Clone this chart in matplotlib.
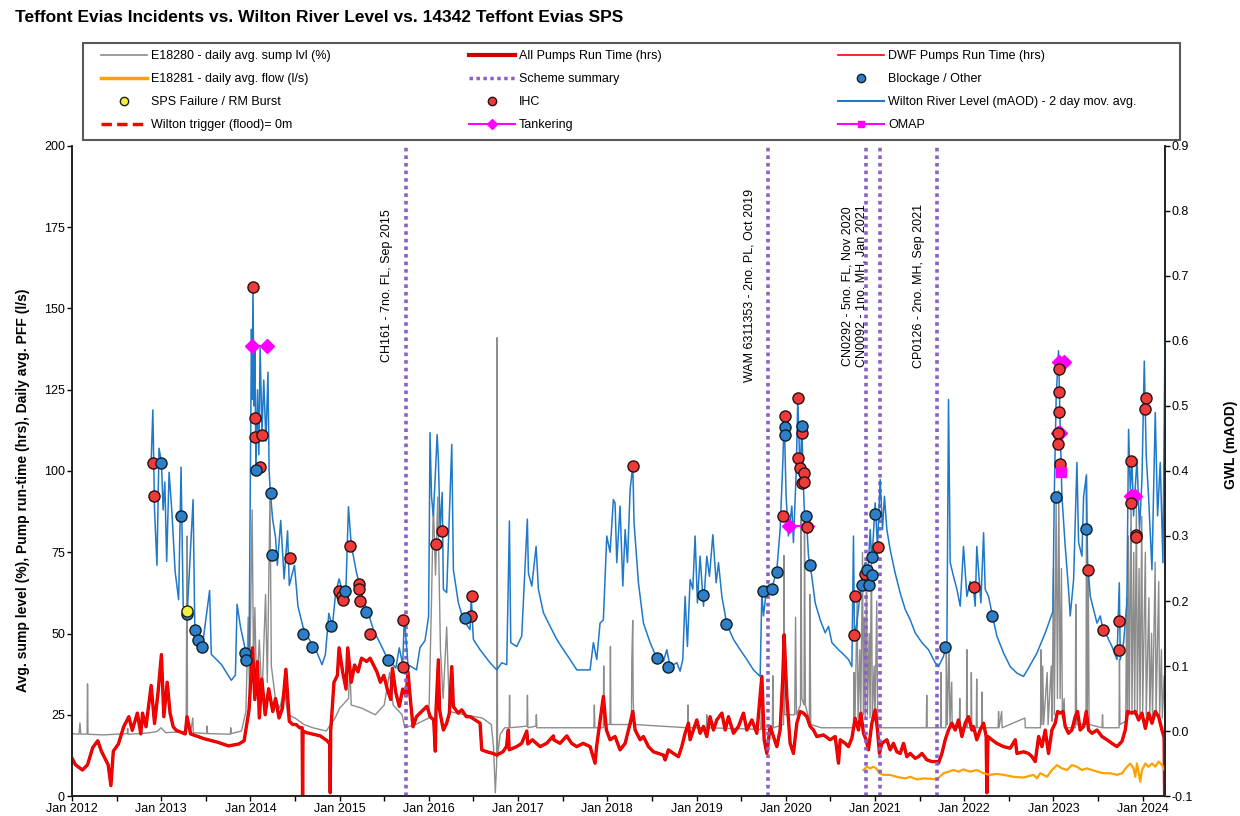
import numpy as np
import matplotlib.pyplot as plt
from matplotlib.lines import Line2D
from matplotlib.patches import Rectangle
from matplotlib.ticker import FormatStrFormatter

plt.rcParams['font.family'] = ['Liberation Sans', 'DejaVu Sans']
plt.rcParams['axes.unicode_minus'] = False

# ---- data (decimal years) ----
# E18280 daily avg. sump level (%)
sump_year = [2012.0, 2012.08, 2012.09, 2012.1, 2012.17, 2012.175, 2012.18, 2012.35, 2012.62, 2012.625,
             2012.63, 2012.85, 2012.95, 2013.0, 2013.05, 2013.28, 2013.29, 2013.295, 2013.33, 2013.355,
             2013.36, 2013.51, 2013.515, 2013.52, 2013.775, 2013.78, 2013.785, 2013.9, 2013.95, 2013.975,
             2013.99, 2014.02, 2014.035, 2014.05, 2014.07, 2014.1, 2014.13, 2014.17, 2014.19, 2014.22,
             2014.235, 2014.28, 2014.33, 2014.38, 2014.42, 2014.5, 2014.6, 2014.7, 2014.85, 2014.95,
             2015.0, 2015.1, 2015.115, 2015.13, 2015.25, 2015.4, 2015.5, 2015.56, 2015.6, 2015.7,
             2015.73, 2015.85, 2016.0, 2016.03, 2016.05, 2016.075, 2016.1, 2016.13, 2016.16, 2016.2,
             2016.23, 2016.4, 2016.6, 2016.7, 2016.725, 2016.745, 2016.76, 2016.765, 2016.77, 2016.8,
             2016.85, 2016.9, 2016.905, 2016.91, 2017.1, 2017.105, 2017.11, 2017.2, 2017.205, 2017.21,
             2017.85, 2017.855, 2017.86, 2017.955, 2017.96, 2017.965, 2018.03, 2018.035, 2018.04, 2018.27,
             2018.275, 2018.285, 2018.29, 2018.3, 2018.9, 2018.905, 2018.91, 2019.11, 2019.115, 2019.12,
             2019.72, 2019.73, 2019.735, 2019.85, 2019.855, 2019.86, 2019.975, 2019.98, 2019.99, 2020.1,
             2020.11, 2020.12, 2020.165, 2020.17, 2020.18, 2020.205, 2020.21, 2020.22, 2020.265, 2020.27,
             2020.28, 2020.4, 2020.76, 2020.765, 2020.775, 2020.8, 2020.81, 2020.83, 2020.84, 2020.86,
             2020.87, 2020.88, 2020.89, 2020.905, 2020.915, 2020.935, 2020.945, 2020.96, 2020.97, 2020.99,
             2021.0, 2021.02, 2021.03, 2021.05, 2021.575, 2021.58, 2021.585, 2021.735, 2021.74, 2021.745,
             2021.795, 2021.8, 2021.81, 2021.83, 2021.84, 2021.86, 2021.865, 2021.945, 2021.95, 2021.955,
             2022.025, 2022.03, 2022.035, 2022.075, 2022.08, 2022.085, 2022.135, 2022.14, 2022.145, 2022.195,
             2022.2, 2022.205, 2022.38, 2022.385, 2022.39, 2022.42, 2022.425, 2022.68, 2022.685, 2022.855,
             2022.86, 2022.87, 2022.88, 2022.89, 2022.93, 2022.94, 2022.975, 2022.985, 2023.0, 2023.01,
             2023.03, 2023.045, 2023.06, 2023.075, 2023.09, 2023.1, 2023.12, 2023.13, 2023.245, 2023.25,
             2023.26, 2023.365, 2023.37, 2023.38, 2023.39, 2023.4, 2023.545, 2023.55, 2023.555, 2023.735,
             2023.74, 2023.745, 2023.81, 2023.82, 2023.83, 2023.84, 2023.85, 2023.87, 2023.88, 2023.9,
             2023.91, 2023.93, 2023.94, 2023.96, 2023.97, 2023.99, 2024.0, 2024.03, 2024.04, 2024.07,
             2024.08, 2024.1, 2024.11, 2024.14, 2024.15, 2024.18, 2024.19, 2024.21, 2024.22, 2024.24, 2024.25]
sump_pct = [19.2, 19.0, 22.5, 19.0, 19.1, 34.5, 19.0, 18.8, 19.2, 20.8,
            19.0, 19.4, 19.8, 21.0, 19.5, 19.8, 80.0, 22.0, 19.8, 24.0,
            19.5, 19.2, 21.5, 19.2, 19.0, 21.0, 19.2, 20.0, 26.0, 55.0,
            32.0, 88.0, 40.0, 58.0, 32.0, 48.0, 30.0, 62.0, 35.0, 93.0,
            40.0, 30.0, 27.0, 33.0, 25.0, 24.0, 22.0, 21.0, 20.0, 24.0,
            27.0, 30.0, 40.0, 28.0, 27.0, 25.0, 28.0, 38.0, 28.0, 25.0,
            21.0, 22.0, 24.0, 60.0, 90.0, 68.0, 92.0, 45.0, 30.0, 52.0,
            26.0, 25.0, 24.0, 22.0, 15.0, 1.0, 10.0, 141.0, 12.0, 19.0,
            21.0, 21.0, 31.0, 21.0, 21.5, 31.0, 21.0, 21.5, 25.0, 21.0,
            21.0, 28.0, 21.0, 21.0, 40.0, 22.0, 22.0, 46.0, 22.0, 22.0,
            42.0, 54.0, 30.0, 22.0, 21.0, 28.0, 21.0, 21.0, 25.0, 21.0,
            20.5, 30.6, 20.5, 20.5, 37.0, 21.0, 22.0, 74.0, 25.0, 25.0,
            55.0, 25.0, 28.0, 85.0, 30.0, 28.0, 82.0, 28.0, 23.0, 62.0,
            22.0, 21.0, 21.0, 38.0, 22.0, 60.0, 24.0, 45.0, 23.0, 75.0,
            25.0, 55.0, 24.0, 72.0, 25.0, 50.0, 24.0, 77.0, 24.0, 40.0,
            23.0, 60.0, 22.0, 21.0, 21.0, 31.0, 21.0, 21.0, 38.0, 21.0,
            21.0, 45.0, 22.0, 47.0, 22.0, 35.0, 21.0, 21.0, 30.0, 21.0,
            21.0, 45.0, 21.0, 21.0, 38.0, 21.0, 21.0, 36.0, 21.0, 21.0,
            32.0, 21.0, 21.0, 26.0, 21.0, 26.0, 21.0, 24.0, 21.0, 21.0,
            45.0, 22.0, 40.0, 22.0, 38.0, 22.0, 40.0, 23.0, 70.0, 25.0,
            91.0, 30.0, 94.0, 30.0, 70.0, 24.0, 30.0, 21.0, 21.0, 59.0,
            22.0, 22.0, 99.0, 25.0, 70.0, 22.0, 21.0, 25.0, 21.0, 21.0,
            42.0, 22.0, 23.0, 61.0, 25.0, 80.0, 25.0, 92.0, 26.0, 75.0,
            25.0, 89.0, 26.0, 70.0, 25.0, 86.0, 26.0, 75.0, 25.0, 61.0,
            25.0, 50.0, 24.0, 72.0, 25.0, 66.0, 24.0, 45.0, 24.0, 37.0, 22.0]

# All pumps run time (hrs)
run_year = [2012.0, 2012.04, 2012.118, 2012.175, 2012.233, 2012.29, 2012.33, 2012.368, 2012.406, 2012.437,
            2012.464, 2012.521, 2012.58, 2012.638, 2012.676, 2012.733, 2012.772, 2012.791, 2012.83, 2012.888,
            2012.926, 2012.965, 2013.003, 2013.03, 2013.068, 2013.1, 2013.135, 2013.17, 2013.27, 2013.29,
            2013.33, 2013.486, 2013.64, 2013.755, 2013.87, 2013.93, 2013.985, 2014.025, 2014.05, 2014.08,
            2014.1, 2014.128, 2014.166, 2014.205, 2014.251, 2014.282, 2014.321, 2014.359, 2014.398, 2014.436,
            2014.474, 2014.513, 2014.552, 2014.58, 2014.585, 2014.59, 2014.629, 2014.706, 2014.783, 2014.86,
            2014.89, 2014.895, 2014.9, 2014.937, 2014.975, 2014.994, 2015.034, 2015.072, 2015.091, 2015.13,
            2015.168, 2015.206, 2015.246, 2015.303, 2015.342, 2015.38, 2015.418, 2015.457, 2015.496, 2015.534,
            2015.573, 2015.592, 2015.63, 2015.669, 2015.707, 2015.746, 2015.766, 2015.793, 2015.823, 2015.861,
            2015.9, 2015.938, 2015.978, 2016.016, 2016.054, 2016.073, 2016.08, 2016.107, 2016.12, 2016.163,
            2016.2, 2016.23, 2016.257, 2016.275, 2016.33, 2016.369, 2016.42, 2016.462, 2016.52, 2016.574,
            2016.593, 2016.65, 2016.72, 2016.761, 2016.83, 2016.87, 2016.891, 2016.9, 2016.985, 2017.04,
            2017.098, 2017.11, 2017.16, 2017.247, 2017.32, 2017.396, 2017.4, 2017.47, 2017.546, 2017.6,
            2017.658, 2017.73, 2017.807, 2017.863, 2017.88, 2017.956, 2017.99, 2018.031, 2018.087, 2018.143,
            2018.2, 2018.256, 2018.286, 2018.312, 2018.368, 2018.405, 2018.461, 2018.517, 2018.573, 2018.629,
            2018.648, 2018.685, 2018.741, 2018.797, 2018.835, 2018.872, 2018.909, 2018.928, 2018.965, 2019.003,
            2019.04, 2019.078, 2019.115, 2019.152, 2019.19, 2019.227, 2019.284, 2019.321, 2019.358, 2019.414,
            2019.47, 2019.526, 2019.564, 2019.62, 2019.676, 2019.732, 2019.758, 2019.788, 2019.825, 2019.862,
            2019.9, 2019.937, 2019.967, 2019.982, 2020.012, 2020.049, 2020.086, 2020.124, 2020.161, 2020.199,
            2020.236, 2020.274, 2020.311, 2020.348, 2020.423, 2020.498, 2020.554, 2020.591, 2020.61, 2020.666,
            2020.703, 2020.741, 2020.778, 2020.815, 2020.842, 2020.871, 2020.9, 2020.927, 2020.965, 2021.002,
            2021.028, 2021.05, 2021.077, 2021.133, 2021.17, 2021.207, 2021.245, 2021.283, 2021.32, 2021.357,
            2021.395, 2021.451, 2021.488, 2021.526, 2021.582, 2021.638, 2021.694, 2021.712, 2021.75, 2021.787,
            2021.824, 2021.862, 2021.899, 2021.936, 2021.974, 2022.011, 2022.048, 2022.086, 2022.104, 2022.141,
            2022.179, 2022.217, 2022.246, 2022.254, 2022.266, 2022.31, 2022.366, 2022.441, 2022.516, 2022.572,
            2022.591, 2022.665, 2022.721, 2022.759, 2022.796, 2022.834, 2022.871, 2022.908, 2022.945, 2022.983,
            2023.02, 2023.046, 2023.076, 2023.106, 2023.132, 2023.169, 2023.207, 2023.244, 2023.27, 2023.3,
            2023.338, 2023.368, 2023.394, 2023.432, 2023.488, 2023.544, 2023.6, 2023.656, 2023.712, 2023.768,
            2023.805, 2023.83, 2023.88, 2023.917, 2023.955, 2023.992, 2024.03, 2024.066, 2024.104, 2024.141,
            2024.179, 2024.216, 2024.24, 2024.246]
run_hrs = [11.7, 9.6, 8.0, 9.6, 14.9, 17.0, 13.8, 11.7, 9.6, 3.2,
           13.8, 16.0, 21.3, 24.4, 20.2, 25.5, 19.1, 25.5, 21.3, 34.0,
           22.3, 31.8, 43.5, 24.4, 35.0, 25.5, 21.3, 20.2, 19.1, 24.4,
           19.1, 17.6, 16.5, 15.4, 16.0, 17.0, 26.5, 45.6, 29.7, 41.3,
           24.0, 36.0, 25.0, 33.0, 26.0, 30.0, 24.0, 27.0, 39.0, 23.0,
           22.0, 22.0, 21.0, 21.0, 0.0, 20.0, 19.5, 19.0, 18.5, 17.0,
           16.0, 1.0, 20.0, 35.0, 37.1, 45.6, 38.2, 32.9, 45.6, 35.0,
           40.3, 38.2, 42.4, 41.4, 42.4, 40.3, 38.2, 35.0, 37.1, 32.9,
           29.7, 39.3, 31.8, 27.6, 32.9, 30.8, 38.2, 29.7, 21.3, 24.4,
           25.5, 26.5, 27.6, 24.4, 23.4, 13.8, 26.0, 41.9, 26.5, 20.3,
           22.4, 25.5, 39.8, 27.5, 25.5, 26.5, 24.4, 24.4, 23.4, 22.4,
           14.2, 13.6, 13.1, 12.6, 13.6, 15.2, 20.3, 14.2, 15.2, 16.2,
           20.0, 16.0, 17.3, 15.2, 16.2, 18.5, 17.3, 16.2, 18.5, 16.2,
           15.2, 16.2, 15.2, 10.1, 15.2, 30.6, 20.3, 17.3, 18.3, 14.2,
           16.2, 22.4, 26.0, 20.3, 17.3, 18.3, 15.2, 13.6, 13.1, 12.6,
           11.1, 14.2, 13.1, 12.1, 15.2, 19.3, 22.4, 17.3, 20.3, 23.4,
           19.3, 21.4, 18.3, 24.4, 20.3, 23.4, 25.5, 20.3, 24.4, 19.3,
           21.4, 25.5, 20.3, 23.4, 19.3, 36.8, 17.3, 13.1, 21.4, 18.3,
           15.2, 20.3, 36.8, 49.6, 30.6, 16.2, 13.1, 22.4, 26.0, 25.5,
           24.4, 21.4, 20.3, 18.3, 18.8, 17.3, 18.3, 10.1, 17.3, 16.2,
           15.2, 17.8, 23.9, 20.3, 25.5, 19.3, 17.3, 14.2, 22.4, 26.5,
           20.3, 13.1, 16.2, 17.3, 14.2, 16.2, 13.6, 13.1, 16.2, 12.1,
           13.1, 11.6, 12.1, 13.1, 11.1, 10.6, 10.6, 10.1, 13.1, 17.3,
           20.3, 22.4, 20.3, 23.4, 18.3, 22.4, 24.4, 20.3, 21.4, 17.3,
           20.3, 22.4, 18.3, 1.0, 18.3, 17.3, 16.2, 15.2, 14.7, 17.3,
           13.1, 13.6, 13.1, 12.1, 10.6, 18.3, 15.2, 20.3, 13.1, 20.3,
           22.4, 26.0, 25.5, 26.0, 21.4, 19.3, 20.3, 24.4, 26.0, 20.3,
           21.4, 26.0, 20.3, 19.3, 20.3, 18.3, 17.3, 16.2, 15.2, 16.8,
           20.3, 26.0, 25.5, 26.0, 23.4, 25.5, 20.8, 25.5, 22.4, 26.0,
           24.4, 20.3, 18.0, 0.0]

# E18281 daily avg. flow (l/s)
flow_year = [2020.871, 2020.909, 2020.946, 2020.983, 2021.013, 2021.05, 2021.095, 2021.17, 2021.245, 2021.339,
             2021.395, 2021.47, 2021.544, 2021.619, 2021.694, 2021.768, 2021.824, 2021.88, 2021.936, 2021.992,
             2022.03, 2022.067, 2022.141, 2022.217, 2022.291, 2022.366, 2022.441, 2022.553, 2022.665, 2022.777,
             2022.815, 2022.852, 2022.89, 2022.927, 2022.983, 2023.039, 2023.095, 2023.151, 2023.207, 2023.263,
             2023.319, 2023.375, 2023.432, 2023.488, 2023.562, 2023.637, 2023.712, 2023.768, 2023.824, 2023.861,
             2023.898, 2023.917, 2023.936, 2023.973, 2023.992, 2024.03, 2024.066, 2024.104, 2024.141, 2024.179,
             2024.216, 2024.246]
flow_ls = [8.0, 9.0, 8.5, 9.0, 8.5, 7.0, 6.5, 6.5, 5.9, 5.4,
           5.9, 5.1, 5.4, 5.3, 5.1, 7.0, 7.5, 8.0, 7.5, 8.2,
           7.8, 7.5, 8.0, 7.0, 6.5, 6.8, 6.5, 5.9, 5.7, 6.5,
           5.4, 7.0, 6.5, 5.9, 8.0, 9.5, 8.5, 8.0, 9.5, 9.0,
           8.0, 8.5, 8.0, 7.5, 7.0, 7.0, 6.5, 7.0, 9.0, 10.0,
           8.5, 5.9, 10.0, 4.4, 8.0, 10.0, 9.0, 10.0, 9.0, 10.6,
           9.5, 8.0]

# Wilton River Level (mAOD) - 2 day mov. avg.
river_year = [2012.888, 2012.907, 2012.926, 2012.953, 2012.976, 2013.003, 2013.022, 2013.041, 2013.062, 2013.089,
              2013.119, 2013.157, 2013.196, 2013.223, 2013.247, 2013.293, 2013.358, 2013.377, 2013.465, 2013.543,
              2013.562, 2013.677, 2013.786, 2013.832, 2013.851, 2013.889, 2013.947, 2013.985, 2014.012, 2014.02,
              2014.029, 2014.04, 2014.05, 2014.062, 2014.08, 2014.095, 2014.109, 2014.13, 2014.15, 2014.174,
              2014.197, 2014.21, 2014.224, 2014.25, 2014.282, 2014.302, 2014.34, 2014.378, 2014.417, 2014.436,
              2014.494, 2014.533, 2014.59, 2014.667, 2014.725, 2014.803, 2014.841, 2014.879, 2014.918, 2014.956,
              2014.994, 2015.034, 2015.072, 2015.099, 2015.13, 2015.187, 2015.265, 2015.322, 2015.38, 2015.457,
              2015.534, 2015.63, 2015.669, 2015.707, 2015.726, 2015.766, 2015.862, 2015.9, 2015.957, 2015.997,
              2016.005, 2016.013, 2016.03, 2016.05, 2016.075, 2016.093, 2016.107, 2016.126, 2016.15, 2016.163,
              2016.2, 2016.257, 2016.275, 2016.331, 2016.387, 2016.462, 2016.475, 2016.499, 2016.574, 2016.63,
              2016.686, 2016.761, 2016.817, 2016.873, 2016.903, 2016.918, 2016.985, 2017.041, 2017.104, 2017.116,
              2017.154, 2017.202, 2017.228, 2017.284, 2017.359, 2017.434, 2017.508, 2017.583, 2017.658, 2017.732,
              2017.807, 2017.844, 2017.882, 2017.919, 2017.956, 2017.994, 2018.031, 2018.068, 2018.087, 2018.106,
              2018.143, 2018.174, 2018.2, 2018.226, 2018.256, 2018.286, 2018.3, 2018.349, 2018.405, 2018.48,
              2018.555, 2018.629, 2018.667, 2018.704, 2018.779, 2018.816, 2018.846, 2018.872, 2018.898, 2018.928,
              2018.958, 2018.984, 2019.01, 2019.04, 2019.078, 2019.115, 2019.145, 2019.183, 2019.22, 2019.246,
              2019.284, 2019.34, 2019.414, 2019.489, 2019.564, 2019.638, 2019.713, 2019.732, 2019.75, 2019.788,
              2019.844, 2019.9, 2019.937, 2019.967, 2019.982, 2020.004, 2020.03, 2020.068, 2020.086, 2020.117,
              2020.135, 2020.161, 2020.18, 2020.199, 2020.217, 2020.236, 2020.255, 2020.292, 2020.33, 2020.386,
              2020.442, 2020.479, 2020.517, 2020.591, 2020.647, 2020.703, 2020.741, 2020.759, 2020.77, 2020.797,
              2020.834, 2020.864, 2020.89, 2020.916, 2020.946, 2020.965, 2021.002, 2021.028, 2021.058, 2021.084,
              2021.106, 2021.133, 2021.17, 2021.226, 2021.283, 2021.339, 2021.395, 2021.451, 2021.526, 2021.6,
              2021.675, 2021.712, 2021.768, 2021.806, 2021.824, 2021.843, 2021.88, 2021.918, 2021.955, 2021.992,
              2022.03, 2022.067, 2022.104, 2022.123, 2022.141, 2022.187, 2022.217, 2022.235, 2022.273, 2022.317,
              2022.366, 2022.441, 2022.516, 2022.591, 2022.665, 2022.721, 2022.815, 2022.908, 2022.994, 2023.009,
              2023.031, 2023.057, 2023.076, 2023.095, 2023.132, 2023.169, 2023.188, 2023.226, 2023.263, 2023.282,
              2023.319, 2023.338, 2023.368, 2023.383, 2023.413, 2023.45, 2023.488, 2023.525, 2023.562, 2023.6,
              2023.656, 2023.712, 2023.738, 2023.749, 2023.786, 2023.823, 2023.842, 2023.861, 2023.88, 2023.898,
              2023.936, 2023.965, 2023.992, 2024.018, 2024.04, 2024.066, 2024.104, 2024.141, 2024.167, 2024.197,
              2024.227, 2024.25]
river_maod = [0.414, 0.494, 0.340, 0.255, 0.435, 0.414, 0.340, 0.383, 0.261, 0.398,
              0.340, 0.245, 0.202, 0.406, 0.192, 0.184, 0.356, 0.160, 0.134, 0.216,
              0.118, 0.102, 0.078, 0.086, 0.195, 0.160, 0.123, 0.115, 0.618, 0.510,
              0.685, 0.500, 0.590, 0.400, 0.525, 0.425, 0.589, 0.460, 0.540, 0.446,
              0.552, 0.400, 0.367, 0.325, 0.298, 0.255, 0.324, 0.234, 0.308, 0.224,
              0.255, 0.192, 0.160, 0.139, 0.128, 0.102, 0.118, 0.181, 0.160, 0.213,
              0.234, 0.213, 0.224, 0.345, 0.287, 0.245, 0.202, 0.181, 0.155, 0.134,
              0.112, 0.097, 0.128, 0.102, 0.176, 0.102, 0.094, 0.128, 0.139, 0.176,
              0.300, 0.459, 0.361, 0.331, 0.400, 0.456, 0.418, 0.310, 0.367, 0.218,
              0.213, 0.441, 0.248, 0.197, 0.171, 0.156, 0.207, 0.141, 0.125, 0.115,
              0.105, 0.094, 0.105, 0.102, 0.323, 0.136, 0.130, 0.146, 0.326, 0.243,
              0.223, 0.284, 0.218, 0.182, 0.161, 0.141, 0.125, 0.110, 0.094, 0.094,
              0.094, 0.136, 0.110, 0.166, 0.171, 0.300, 0.275, 0.356, 0.351, 0.259,
              0.346, 0.223, 0.310, 0.259, 0.372, 0.408, 0.320, 0.228, 0.166, 0.136,
              0.112, 0.107, 0.125, 0.099, 0.105, 0.092, 0.110, 0.207, 0.130, 0.233,
              0.218, 0.300, 0.197, 0.269, 0.192, 0.269, 0.238, 0.302, 0.228, 0.259,
              0.207, 0.164, 0.141, 0.125, 0.110, 0.094, 0.084, 0.212, 0.177, 0.223,
              0.219, 0.248, 0.310, 0.413, 0.485, 0.361, 0.300, 0.346, 0.290, 0.397,
              0.512, 0.392, 0.469, 0.372, 0.310, 0.315, 0.269, 0.238, 0.197, 0.171,
              0.151, 0.161, 0.136, 0.125, 0.118, 0.110, 0.099, 0.300, 0.147, 0.166,
              0.212, 0.248, 0.259, 0.228, 0.310, 0.259, 0.351, 0.284, 0.387, 0.310,
              0.361, 0.310, 0.279, 0.243, 0.212, 0.187, 0.171, 0.151, 0.136, 0.125,
              0.105, 0.099, 0.115, 0.136, 0.510, 0.259, 0.238, 0.218, 0.192, 0.284,
              0.207, 0.230, 0.218, 0.192, 0.284, 0.197, 0.305, 0.218, 0.207, 0.177,
              0.146, 0.120, 0.099, 0.089, 0.084, 0.097, 0.120, 0.151, 0.184, 0.361,
              0.515, 0.585, 0.464, 0.361, 0.284, 0.218, 0.177, 0.233, 0.413, 0.290,
              0.269, 0.361, 0.392, 0.259, 0.207, 0.187, 0.166, 0.177, 0.151, 0.146,
              0.130, 0.110, 0.228, 0.110, 0.136, 0.197, 0.464, 0.372, 0.413, 0.331,
              0.418, 0.310, 0.387, 0.569, 0.423, 0.361, 0.248, 0.490, 0.331, 0.413,
              0.259, 0.603]

# incidents, plotted at river level (mAOD)
ihc_year = [2012.907, 2012.915, 2014.029, 2014.054, 2014.054, 2014.13, 2014.103, 2014.446, 2014.99, 2015.028,
            2015.036, 2015.113, 2015.213, 2015.213, 2015.229, 2015.344, 2015.71, 2015.71, 2016.076, 2016.152,
            2016.481, 2016.47, 2018.286, 2019.967, 2019.986, 2020.142, 2020.187, 2020.142, 2020.161, 2020.199,
            2020.18, 2020.206, 2020.236, 2020.778, 2020.77, 2020.89, 2021.032, 2022.115, 2023.057, 2023.057,
            2023.057, 2023.046, 2023.046, 2023.076, 2023.387, 2023.55, 2023.738, 2023.73, 2023.869, 2023.872,
            2023.925, 2023.925, 2024.037, 2024.03]
ihc_maod = [0.412, 0.361, 0.683, 0.482, 0.452, 0.456, 0.406, 0.266, 0.216, 0.208,
            0.201, 0.285, 0.226, 0.219, 0.200, 0.149, 0.171, 0.099, 0.288, 0.307,
            0.207, 0.177, 0.408, 0.330, 0.484, 0.512, 0.458, 0.420, 0.405, 0.397,
            0.382, 0.383, 0.314, 0.207, 0.147, 0.242, 0.283, 0.221, 0.557, 0.522,
            0.491, 0.459, 0.441, 0.410, 0.248, 0.156, 0.169, 0.124, 0.416, 0.351,
            0.301, 0.299, 0.512, 0.496]

blockage_year = [2013.003, 2013.223, 2013.293, 2013.381, 2013.416, 2013.454, 2013.936, 2013.947, 2014.065, 2014.234,
                 2014.245, 2014.593, 2014.69, 2014.901, 2015.055, 2015.294, 2015.544, 2016.406, 2018.555, 2018.678,
                 2019.078, 2019.332, 2019.743, 2019.844, 2019.9, 2019.986, 2019.986, 2020.18, 2020.229, 2020.274,
                 2020.853, 2020.909, 2020.935, 2020.972, 2020.972, 2021.002, 2021.787, 2022.317, 2023.031, 2023.368]
blockage_maod = [0.412, 0.331, 0.180, 0.155, 0.140, 0.130, 0.120, 0.109, 0.401, 0.366,
                 0.271, 0.149, 0.129, 0.162, 0.216, 0.183, 0.110, 0.174, 0.112, 0.099,
                 0.210, 0.164, 0.215, 0.219, 0.244, 0.468, 0.455, 0.469, 0.330, 0.255,
                 0.224, 0.248, 0.224, 0.240, 0.268, 0.334, 0.130, 0.177, 0.360, 0.311]

sps_year = [2013.293]
sps_maod = [0.185]

tanker_year = [2014.015, 2014.188, np.nan, 2020.038, 2020.236, np.nan, 2023.046, 2023.076, np.nan,
               2023.057, 2023.113, np.nan, 2023.869, 2023.917]
tanker_maod = [0.593, 0.593, np.nan, 0.315, 0.315, np.nan, 0.459, 0.459, np.nan,
               0.567, 0.567, np.nan, 0.362, 0.362]

omap_year = [2023.084]
omap_maod = [0.398]

scheme_year = [2015.745, 2019.80, 2020.90, 2021.06, 2021.70]
scheme_text = ["CH161 - 7no. FL, Sep 2015", "WAM 6311353 - 2no. PL, Oct 2019",
               "CN0292 - 5no. FL, Nov 2020", "CN0092 - 1no. MH, Jan 2021",
               "CP0126 - 2no. MH, Sep 2021"]

tick_years = list(range(2012, 2025))

# ---- colours ----
c_sump = '#8c8c8c'
c_run = '#d00000'
c_dwf = '#ff0000'
c_flow = '#ffa200'
c_river = '#1f78c8'
c_scheme = '#8a60c6'
c_mag = '#ff00ff'

fig = plt.figure(figsize=(12.4, 8.16), dpi=100)
ax = fig.add_axes([0.058, 0.0245, 0.8815, 0.7966])
ax2 = ax.twinx()

ax.plot(sump_year, sump_pct, color=c_sump, lw=1.0, zorder=2)
ax.plot(run_year, run_hrs, color=c_run, lw=2.4, zorder=3)
ax.plot(run_year, run_hrs, color=c_dwf, lw=1.4, zorder=3)
ax.plot(flow_year, flow_ls, color=c_flow, lw=1.6, zorder=3)
for yr in scheme_year:
    ax.axvline(yr, color=c_scheme, lw=2.6, ls=(0, (1, 1.1)), zorder=4)
for yr, txt in zip(scheme_year, scheme_text):
    ax.text(yr - 0.21, 157, txt, rotation=90, ha='center', va='center', fontsize=9, zorder=5)

ax2.plot(river_year, river_maod, color=c_river, lw=1.1, zorder=2)
ax2.plot(tanker_year, tanker_maod, color=c_mag, lw=1.5, marker='D', ms=7, mec=c_mag, zorder=3)
ax2.plot(ihc_year, ihc_maod, 'o', mfc='#f03a3a', mec='#2a1010', mew=1.0, ms=8, zorder=4)
ax2.plot(blockage_year, blockage_maod, 'o', mfc='#2e7ec8', mec='#10202a', mew=1.0, ms=8, zorder=4)
ax2.plot(sps_year, sps_maod, 'o', mfc='#f0f03c', mec='#202020', mew=1.0, ms=8, zorder=5)
ax2.plot(omap_year, omap_maod, 's', mfc=c_mag, mec=c_mag, ms=7, zorder=5)

ax.set_xlim(2012, 2024.25)
ax.set_ylim(0, 200)
ax.set_yticks(range(0, 201, 25))
ax2.set_ylim(-0.1, 0.9)
ax2.set_yticks([-0.1, 0.0, 0.1, 0.2, 0.3, 0.4, 0.5, 0.6, 0.7, 0.8, 0.9])
ax2.yaxis.set_major_formatter(FormatStrFormatter('%.1f'))
ax.set_xticks(tick_years)
ax.set_xticklabels(['Jan %d' % y for y in tick_years])
ax.set_xticks([y + 0.5 for y in tick_years[:-1]], minor=True)

for a in (ax, ax2):
    a.spines['top'].set_visible(False)
    for s in ('left', 'right', 'bottom'):
        a.spines[s].set_linewidth(1.2)
        a.spines[s].set_color('#202020')
    a.tick_params(which='both', direction='out', length=3.5, width=1, labelsize=9, pad=1.5)

ax.set_ylabel('Avg. sump level (%), Pump run-time (hrs), Daily avg. PFF (l/s)',
              fontsize=10, fontweight='bold')
ax.yaxis.set_label_coords(-0.038, 0.47)
ax2.set_ylabel('GWL (mAOD)', fontsize=10, fontweight='bold')
ax2.yaxis.set_label_coords(1.054, 0.54)

fig.text(0.012, 1 - 18 / 816, 'Teffont Evias Incidents vs. Wilton River Level vs. 14342 Teffont Evias SPS',
         fontsize=12.5, fontweight='bold', va='center', ha='left')

# legend box and three columns
fig.patches.append(Rectangle((83 / 1240, 1 - 140 / 816), 1097 / 1240, 97 / 816, transform=fig.transFigure,
                             fill=False, edgecolor='#595959', lw=1.5))
col1 = [Line2D([], [], color=c_sump, lw=1.2, label='E18280 - daily avg. sump lvl (%)'),
        Line2D([], [], color=c_flow, lw=2.5, label='E18281 - daily avg. flow (l/s)'),
        Line2D([], [], ls='none', marker='o', mfc='#f0f03c', mec='#202020', ms=6, label='SPS Failure / RM Burst'),
        Line2D([], [], color=c_dwf, lw=2.5, ls=(0, (3, 1.5)), label='Wilton trigger (flood)= 0m')]
col2 = [Line2D([], [], color=c_run, lw=3, label='All Pumps Run Time (hrs)'),
        Line2D([], [], color=c_scheme, lw=2.5, ls=(0, (1, 1)), label='Scheme summary'),
        Line2D([], [], ls='none', marker='o', mfc='#f03a3a', mec='#2a1010', ms=6, label='IHC'),
        Line2D([], [], color=c_mag, lw=1.5, marker='D', ms=5, label='Tankering')]
col3 = [Line2D([], [], color=c_dwf, lw=1.2, label='DWF Pumps Run Time (hrs)'),
        Line2D([], [], ls='none', marker='o', mfc='#2e7ec8', mec='#10202a', ms=6, label='Blockage / Other'),
        Line2D([], [], color=c_river, lw=1.5, label='Wilton River Level (mAOD) - 2 day mov. avg.'),
        Line2D([], [], color=c_mag, lw=1.5, marker='s', ms=5, label='OMAP')]
for handles, x0 in ((col1, 101), (col2, 469), (col3, 838)):
    fig.legend(handles=handles, loc='upper left', bbox_to_anchor=(x0 / 1240, 1 - 50 / 816),
               bbox_transform=fig.transFigure, frameon=False, borderpad=0, borderaxespad=0,
               handlelength=3.7, handletextpad=0.3, labelspacing=0.88, fontsize=9, numpoints=1)

fig.savefig('out.png', dpi=100)
